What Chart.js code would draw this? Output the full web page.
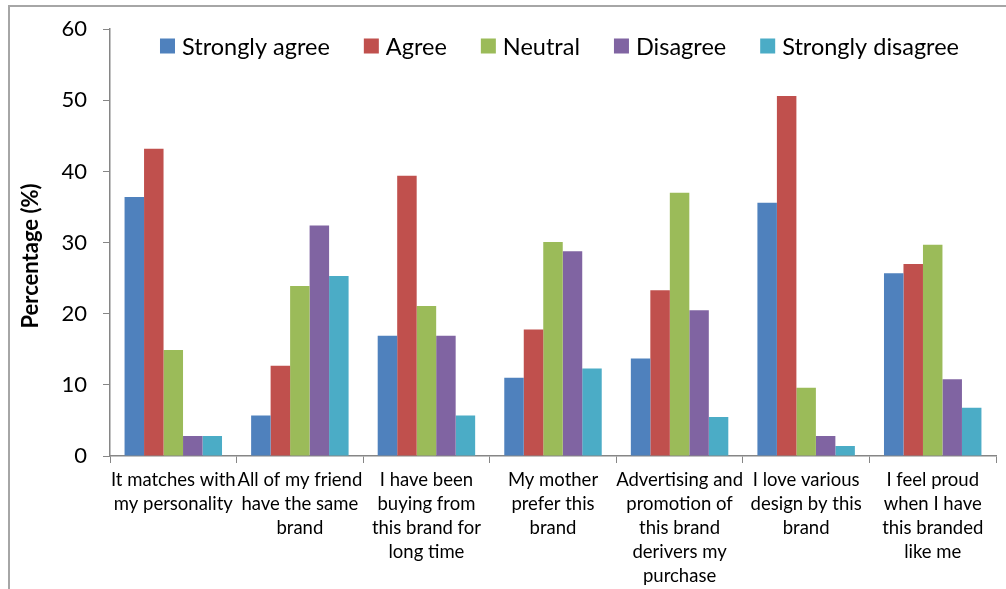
<!DOCTYPE html>
<html>
<head>
<meta charset="utf-8">
<script src="https://cdn.jsdelivr.net/npm/chart.js@4/dist/chart.umd.min.js"></script>
<style>
  html, body { margin: 0; padding: 0; background: #fff; }
  canvas { display: block; }
</style>
</head>
<body>
<canvas id="brandChart" width="1006" height="589"></canvas>
<script>
// Data
const categories = [
  ['It matches with', 'my personality'],
  ['All of my friend', 'have the same', 'brand'],
  ['I have been', 'buying from', 'this brand for', 'long time'],
  ['My mother', 'prefer this', 'brand'],
  ['Advertising and', 'promotion of', 'this brand', 'derivers my', 'purchase'],
  ['I love various', 'design by this', 'brand'],
  ['I feel proud', 'when I have', 'this branded', 'like me']
];
const seriesNames = ['Strongly agree', 'Agree', 'Neutral', 'Disagree', 'Strongly disagree'];
const stronglyAgree    = [36.4, 5.7, 16.9, 11.0, 13.7, 35.6, 25.7];
const agree            = [43.2, 12.7, 39.4, 17.8, 23.3, 50.6, 27.0];
const neutral          = [14.9, 23.9, 21.1, 30.1, 37.0, 9.6, 29.7];
const disagree         = [2.8, 32.4, 16.9, 28.8, 20.5, 2.8, 10.8];
const stronglyDisagree = [2.8, 25.3, 5.7, 12.3, 5.5, 1.4, 6.8];
const yTicks = [0, 10, 20, 30, 40, 50, 60];
const yTitle = 'Percentage (%)';

const colors = ['#4F81BD', '#C0504D', '#9BBB59', '#8064A2', '#4BACC6'];
const FONT = 'Lato, "Open Sans", sans-serif';

// frame round the whole chart (cut off at right and bottom like the original)
const framePlugin = {
  id: 'frame',
  beforeDraw(chart) {
    const c = chart.ctx;
    c.save();
    c.strokeStyle = '#a6a6a6';
    c.lineWidth = 2;
    c.strokeRect(9, 6, 1200, 800);
    c.restore();
  }
};

// legend sits inside the plot area at the top, like the Excel original
const legendPlugin = {
  id: 'insideLegend',
  afterDraw(chart) {
    const c = chart.ctx;
    c.save();
    c.font = '23.5px ' + FONT;
    c.textBaseline = 'middle';
    const box = 15, boxGap = 7, itemGap = 34;
    const widths = seriesNames.map(n => c.measureText(n).width);
    let total = 0;
    widths.forEach((w, i) => { total += box + boxGap + w + (i < widths.length - 1 ? itemGap : 0); });
    let x = 559.5 - total / 2;
    const y = 46;
    seriesNames.forEach((name, i) => {
      c.fillStyle = colors[i];
      c.fillRect(x, y - box / 2, box, box);
      c.fillStyle = '#000';
      c.fillText(name, x + box + boxGap, y + 1);
      x += box + boxGap + widths[i] + itemGap;
    });
    c.restore();
  }
};

// y axis title, placed where the reference has it
const yTitlePlugin = {
  id: 'yTitle',
  afterDraw(chart) {
    const c = chart.ctx;
    c.save();
    c.translate(31, 256);
    c.rotate(-Math.PI / 2);
    c.font = 'bold 22px ' + FONT;
    c.fillStyle = '#000';
    c.textAlign = 'center';
    c.textBaseline = 'middle';
    c.fillText(yTitle, 0, 0);
    c.restore();
  }
};

const seriesData = [stronglyAgree, agree, neutral, disagree, stronglyDisagree];

const ctx = document.getElementById('brandChart').getContext('2d');
const brandChart = new Chart(ctx, {
  type: 'bar',
  data: {
    labels: categories,
    datasets: seriesNames.map((name, i) => ({
      label: name,
      data: seriesData[i],
      backgroundColor: colors[i],
      borderWidth: 0,
      barPercentage: 1.0,
      categoryPercentage: 0.77
    }))
  },
  options: {
    responsive: false,
    animation: false,
    devicePixelRatio: 1,
    layout: { padding: { top: 29, right: 10, left: 0, bottom: 0 } },
    plugins: {
      legend: { display: false },
      tooltip: { enabled: false }
    },
    scales: {
      x: {
        offset: true,
        grid: {
          offset: true,
          drawOnChartArea: false,
          tickLength: 7,
          color: '#868686',
          lineWidth: 1
        },
        border: { color: '#868686', width: 1.5 },
        ticks: {
          color: '#000',
          padding: 5,
          maxRotation: 0,
          autoSkip: false,
          font: { family: FONT, size: 18.5, lineHeight: 1.3 }
        },
        afterFit(scale) { scale.height = 133; }
      },
      y: {
        min: 0,
        max: 60,
        afterBuildTicks(scale) { scale.ticks = yTicks.map(v => ({ value: v })); },
        grid: {
          drawOnChartArea: false,
          tickLength: 7,
          color: '#868686'
        },
        border: { color: '#868686', width: 1.5 },
        ticks: {
          color: '#000',
          padding: 16,
          font: { family: FONT, size: 22 }
        },
        afterFit(scale) { scale.width = 110; }
      }
    }
  },
  plugins: [framePlugin, legendPlugin, yTitlePlugin]
});
</script>
</body>
</html>
